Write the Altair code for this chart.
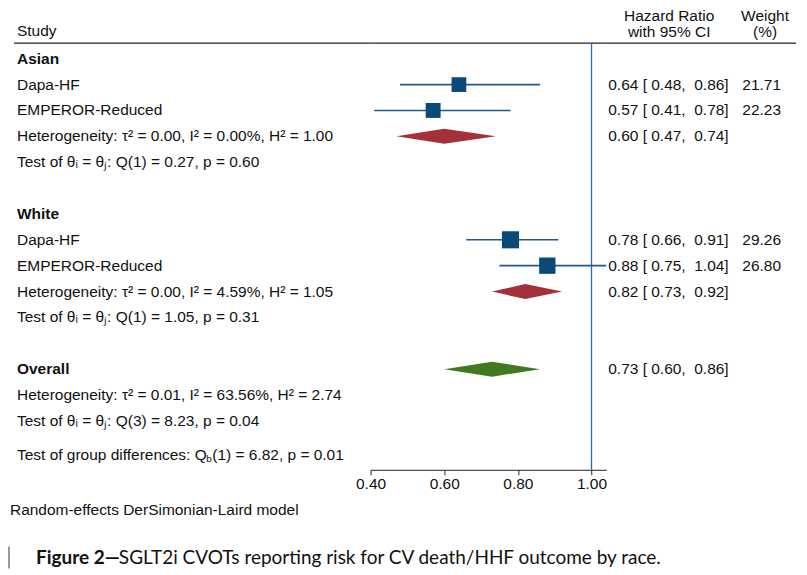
import altair as alt
import pandas as pd

FONT = "Liberation Sans"
FS = 15.5
TXT = "#111111"

# ---------------- data ----------------
group_names = ["Asian", "White", "Overall"]
group_rows = [0, 6, 12]

study_names = ["Dapa-HF", "EMPEROR-Reduced", "Dapa-HF", "EMPEROR-Reduced"]
study_rows = [1, 2, 7, 8]
study_hr = [0.64, 0.57, 0.78, 0.88]
study_lo = [0.48, 0.41, 0.66, 0.75]
study_hi = [0.86, 0.78, 0.91, 1.04]
study_weight = [21.71, 22.23, 29.26, 26.80]

pooled_names = ["Asian", "White", "Overall"]
pooled_rows = [3, 9, 12]
pooled_hr = [0.60, 0.82, 0.73]
pooled_lo = [0.47, 0.73, 0.60]
pooled_hi = [0.74, 0.92, 0.86]
pooled_colors = ["#a3303a", "#a3303a", "#40791f"]

stat_rows = [3, 4, 9, 10, 13, 14]
stat_texts = [
    "Heterogeneity: τ² = 0.00, I² = 0.00%, H² = 1.00",
    "Test of θᵢ = θⱼ: Q(1) = 0.27, p = 0.60",
    "Heterogeneity: τ² = 0.00, I² = 4.59%, H² = 1.05",
    "Test of θᵢ = θⱼ: Q(1) = 1.05, p = 0.31",
    "Heterogeneity: τ² = 0.01, I² = 63.56%, H² = 2.74",
    "Test of θᵢ = θⱼ: Q(3) = 8.23, p = 0.04",
]
gd_row = 15.33
gd_parts = ["Test of group differences: Q", "b", "(1) = 6.82, p = 0.01"]

x_ticks = [0.40, 0.60, 0.80, 1.00]
x_domain = [0.40, 1.04]
null_value = 1.00

footnote = "Random-effects DerSimonian-Laird model"
caption_bold = "Figure 2—"
caption_rest = "SGLT2i CVOTs reporting risk for CV death/HHF outcome by race."

# ---------------- layout constants ----------------
ROW_TOP, ROW_BOTTOM = -1.87, 15.89
HEADER_ROW = -0.6
H = 460
W_LEFT, W_MID, W_RIGHT = 363, 236, 193
DIAMOND_H = 0.29
NB = "\u00a0"

ys = alt.Scale(domain=[ROW_TOP, ROW_BOTTOM], reverse=True, nice=False, zero=False)
xs = alt.Scale(domain=x_domain, nice=False, zero=False)
xax = alt.Axis(values=x_ticks, format=".2f", title=None, grid=False,
               domainColor="#222", tickColor="#222", tickSize=5, domainWidth=1,
               labelFont=FONT, labelFontSize=FS, labelColor=TXT, labelPadding=2,
               labelFlush=False)

def Y(field):
    return alt.Y(field, type="quantitative", scale=ys, axis=None)

def ci_label(a, b, c):
    return f"{a:.2f} [{NB}{b:.2f},{NB}{NB}{c:.2f}]"

studies = pd.DataFrame({"name": study_names, "row": study_rows, "hr": study_hr,
                        "lo": study_lo, "hi": study_hi, "w": study_weight})
studies["ci"] = [ci_label(a, b, c) for a, b, c in zip(study_hr, study_lo, study_hi)]
studies["wt"] = [f"{w:.2f}" for w in study_weight]

pooled = pd.DataFrame({"name": pooled_names, "row": pooled_rows, "hr": pooled_hr,
                       "lo": pooled_lo, "hi": pooled_hi})
pooled["ci"] = [ci_label(a, b, c) for a, b, c in zip(pooled_hr, pooled_lo, pooled_hi)]

dia_rows = []
for n, r, e, l, h in zip(pooled_names, pooled_rows, pooled_hr, pooled_lo, pooled_hi):
    dia_rows.append({"name": n, "x": l, "y": r, "y2": r})
    dia_rows.append({"name": n, "x": e, "y": r - DIAMOND_H, "y2": r + DIAMOND_H})
    dia_rows.append({"name": n, "x": h, "y": r, "y2": r})
diamonds = pd.DataFrame(dia_rows)

groups = pd.DataFrame({"name": group_names, "row": group_rows})
stats = pd.DataFrame({"text": stat_texts, "row": stat_rows})
one = pd.DataFrame({"a": [0]})

def header_rule(x0, x1):
    return alt.Chart(one).mark_rule(color="#222", strokeWidth=1.2).encode(
        x=alt.value(x0), x2=alt.value(x1), y=alt.Y(datum=HEADER_ROW, scale=ys, axis=None))

def txt(df, field, xoff, align="left", bold=False, size=FS, dy=0, font=FONT):
    return alt.Chart(df).mark_text(align=align, baseline="middle", font=font, fontSize=size,
                                   fontWeight="bold" if bold else "normal", color=TXT,
                                   dy=dy).encode(
        x=alt.value(xoff), y=Y("row"), text=alt.Text(field, type="nominal"))

def single(text, row, xoff, **kw):
    return txt(pd.DataFrame({"text": [text], "row": [row]}), "text", xoff, **kw)

# ---------------- left panel ----------------
left = alt.layer(
    single("Study", -1.06, 9),
    header_rule(6, W_LEFT),
    txt(groups, "name", 9, bold=True),
    txt(studies, "name", 9),
    txt(stats, "text", 9),
    single(gd_parts[0], gd_row, 9),
    single(gd_parts[1], gd_row, 198.5, size=10, dy=4),
    single(gd_parts[2], gd_row, 204.5),
    single(footnote, 17.43, 2),
    alt.Chart(one).mark_rule(color="#999", strokeWidth=2).encode(
        x=alt.value(1), y=alt.Y(datum=18.86, scale=ys, axis=None), y2=alt.Y2(datum=19.71)),
    single(caption_bold, 19.29, 28, bold=True, size=19, font="Lato"),
    single(caption_rest, 19.29, 111, size=19, font="Lato"),
).properties(width=W_LEFT, height=H)

# ---------------- middle panel ----------------
ci = alt.Chart(studies).mark_rule(color="#1f5a8c", strokeWidth=1.6).encode(
    x=alt.X("lo:Q", scale=xs, axis=xax), x2="hi:Q", y=Y("row"))
sq = alt.Chart(studies).mark_square(filled=True, opacity=1, color="#0b4a78").encode(
    x=alt.X("hr:Q", scale=xs, axis=xax), y=Y("row"),
    size=alt.Size("w:Q", scale=alt.Scale(domain=[0, 30], range=[0, 300]), legend=None))
dia = alt.Chart(diamonds).mark_area(opacity=1).encode(
    x=alt.X("x:Q", scale=xs, axis=xax), y=Y("y"), y2="y2:Q", detail="name:N",
    color=alt.Color("name:N", scale=alt.Scale(domain=pooled_names, range=pooled_colors), legend=None))
vline = alt.Chart(pd.DataFrame({"x": [null_value]})).mark_rule(color="#2b6cb0", strokeWidth=1.3).encode(
    x=alt.X("x:Q", scale=xs, axis=xax),
    y=alt.Y(datum=HEADER_ROW, scale=ys, axis=None), y2=alt.Y2(datum=ROW_BOTTOM))
mid = alt.layer(header_rule(0, W_MID), vline, ci, dia, sq).properties(width=W_MID, height=H)

# ---------------- right panel ----------------
right = alt.layer(
    single("Hazard Ratio", -1.65, 63, align="center"),
    single("with 95% CI", -1.04, 63, align="center"),
    single("Weight", -1.65, 159, align="center"),
    single("(%)", -1.04, 159, align="center"),
    header_rule(0, 190),
    txt(studies, "ci", 2),
    txt(pooled, "ci", 2),
    txt(studies, "wt", 175, align="right"),
).properties(width=W_RIGHT, height=H)

chart = alt.hconcat(left, mid, right, spacing=0, bounds="flush").properties(
    padding=0, background="white"
).configure_view(stroke=None)

chart.save("out.html", embed_options={"renderer": "svg", "actions": False})
